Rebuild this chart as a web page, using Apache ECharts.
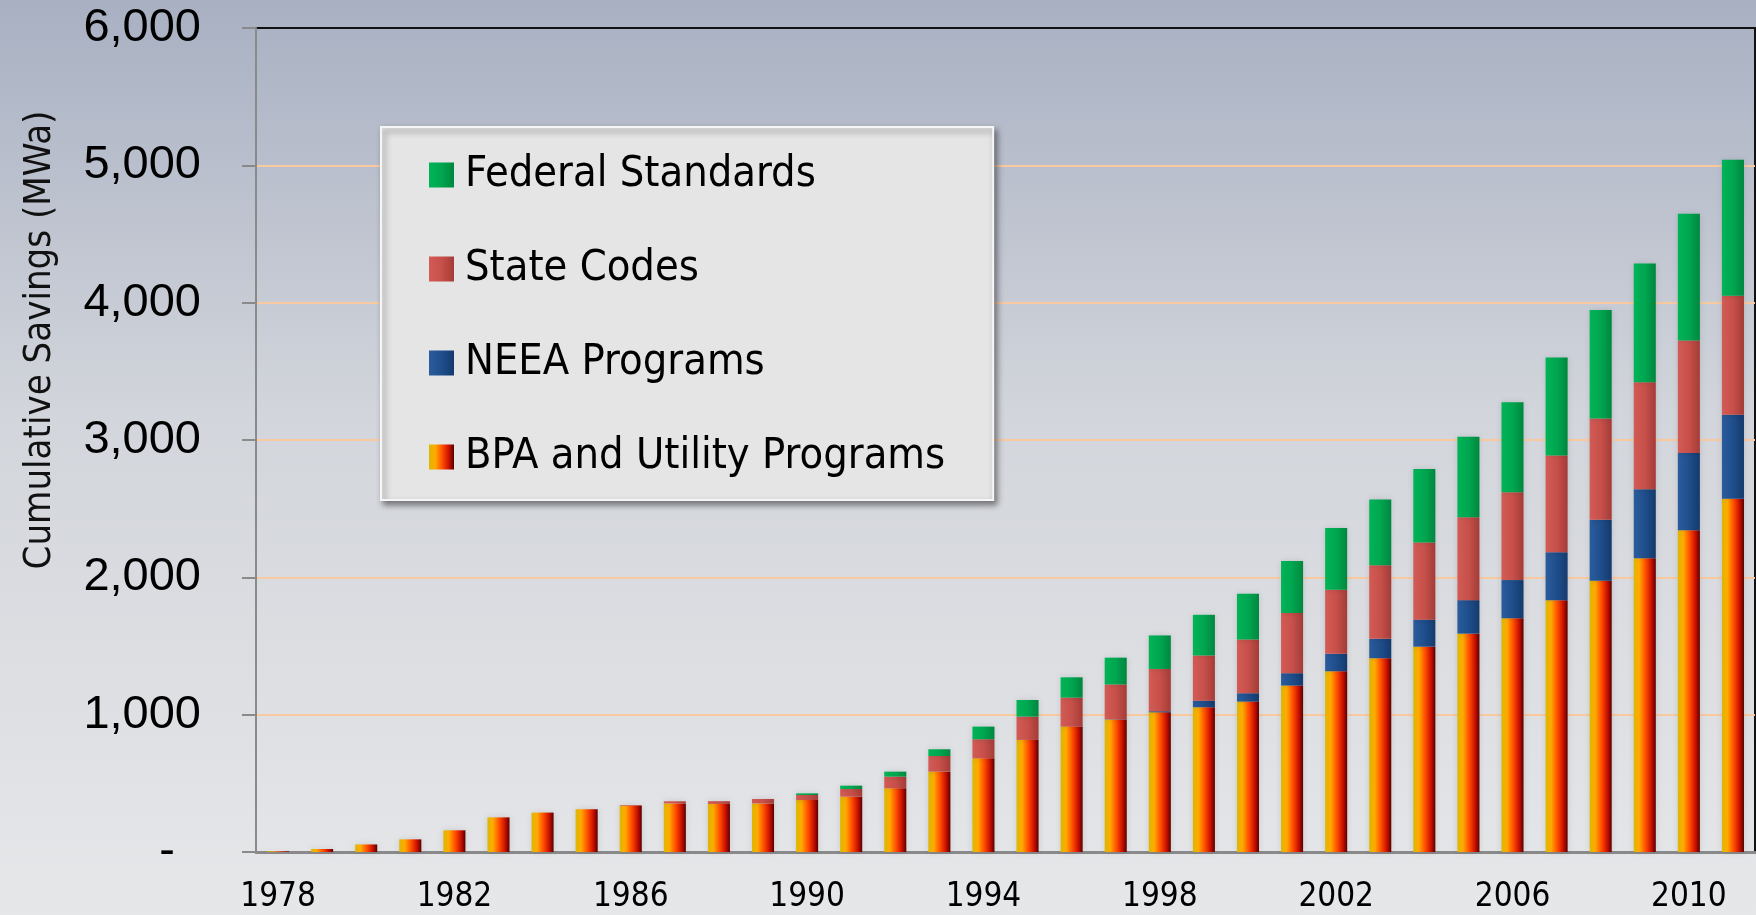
<!DOCTYPE html>
<html>
<head>
<meta charset="utf-8">
<script src="https://cdn.jsdelivr.net/npm/echarts@6/dist/echarts.min.js"></script>
<style>
  body { margin: 0; }
  #savings { width: 1756px; height: 915px; }
</style>
</head>
<body>
<div id="savings"></div>
<script>
var years = ['1978', '1979', '1980', '1981', '1982', '1983', '1984', '1985', '1986', '1987',
  '1988', '1989', '1990', '1991', '1992', '1993', '1994', '1995', '1996', '1997',
  '1998', '1999', '2000', '2001', '2002', '2003', '2004', '2005', '2006', '2007',
  '2008', '2009', '2010', '2011'];

// cumulative MWa
var bpaUtility = [5, 22, 55, 92, 158, 252, 287, 311, 337, 354, 350, 354, 378, 403, 464, 585, 682,
  816, 913, 965, 1017, 1054, 1095, 1212, 1316, 1411, 1495, 1590, 1702, 1834, 1976, 2139, 2342, 2573];
var neeaPrograms = [0, 0, 0, 0, 0, 0, 0, 0, 0, 0, 0, 0, 0, 0, 0, 0, 0, 0, 0, 2, 8, 48, 61, 90, 127,
  141, 197, 244, 278, 349, 444, 502, 563, 610];
var stateCodes = [0, 0, 0, 0, 0, 0, 0, 0, 5, 15, 20, 32, 37, 56, 85, 114, 139, 170, 211, 253, 308,
  329, 391, 438, 467, 536, 562, 603, 640, 705, 736, 779, 820, 868];
var federalStandards = [0, 0, 0, 0, 0, 0, 0, 0, 0, 0, 0, 0, 12, 24, 36, 49, 92, 121, 148, 195, 244,
  296, 334, 379, 450, 479, 535, 587, 655, 712, 790, 865, 922, 990];

var legendNames = ['Federal Standards', 'State Codes', 'NEEA Programs', 'BPA and Utility Programs'];

var savings_chartDom = document.getElementById('savings');
var savings_myChart = echarts.init(savings_chartDom);
var savings_option;

// no narrow Liberation here, the condensed DejaVu is the closest thing
var narrow = "'DejaVu Sans Condensed', 'Liberation Sans Narrow', sans-serif";

// horizontal gradients give the bars a rounded, cylinder-ish look
function barFill(stops) {
  return new echarts.graphic.LinearGradient(0, 0, 1, 0, stops);
}

var bpaFill = barFill([
  { offset: 0, color: '#dcb800' },
  { offset: 0.25, color: '#ffaa00' },
  { offset: 0.55, color: '#ff4a00' },
  { offset: 0.8, color: '#c81000' },
  { offset: 1, color: '#5a0000' }
]);
var neeaFill = barFill([
  { offset: 0, color: '#2a5c9c' },
  { offset: 0.5, color: '#1f4e8c' },
  { offset: 1, color: '#143a6c' }
]);
var stateFill = barFill([
  { offset: 0, color: '#d25b55' },
  { offset: 0.5, color: '#c8504a' },
  { offset: 1, color: '#a33c37' }
]);
var federalFill = barFill([
  { offset: 0, color: '#00b457' },
  { offset: 0.5, color: '#00a650' },
  { offset: 1, color: '#00873f' }
]);

function stackBar(name, values, fill) {
  return {
    name: name,
    type: 'bar',
    stack: 'savings',
    barWidth: '50%',
    data: values,
    itemStyle: {
      color: fill,
      shadowBlur: 6,
      shadowColor: 'rgba(0,0,0,0.12)'
    }
  };
}

savings_option = {
  backgroundColor: new echarts.graphic.LinearGradient(0, 0, 0, 1, [
    { offset: 0, color: '#a8b0c2' },
    { offset: 0.45, color: '#d2d5db' },
    { offset: 1, color: '#e6e7e9' }
  ]),
  animation: false,
  grid: {
    left: 256,
    right: 1,
    top: 28,
    bottom: 63,
    show: true,
    borderColor: '#111',
    borderWidth: 2
  },
  legend: {
    orient: 'vertical',
    left: 381,
    top: 127,
    data: legendNames,
    selectedMode: false,
    icon: 'rect',
    itemWidth: 25,
    itemHeight: 25,
    itemGap: 44,
    padding: [23, 48, 18, 48],
    backgroundColor: '#e5e5e5',
    borderColor: '#f6f6f6',
    borderWidth: 2,
    shadowBlur: 6,
    shadowColor: 'rgba(0,0,0,0.45)',
    shadowOffsetX: 3,
    shadowOffsetY: 4,
    textStyle: {
      fontFamily: narrow,
      fontSize: 43,
      lineHeight: 50,
      color: '#000',
      padding: [0, 0, 0, 6]
    }
  },
  xAxis: {
    type: 'category',
    data: years,
    axisLine: { lineStyle: { color: '#8a8a8a', width: 3 } },
    axisTick: { interval: 0, length: 14, lineStyle: { color: '#8a8a8a', width: 2 } },
    axisLabel: {
      interval: 3,
      margin: 29,
      fontFamily: narrow,
      fontSize: 33,
      color: '#000'
    }
  },
  yAxis: {
    type: 'value',
    min: 0,
    max: 6000,
    interval: 1000,
    name: 'Cumulative Savings (MWa)',
    nameLocation: 'middle',
    nameGap: 197,
    nameTextStyle: {
      fontFamily: narrow,
      fontSize: 38,
      color: '#111',
      padding: [0, 0, 0, 200]
    },
    axisLine: { show: true, lineStyle: { color: '#8a8a8a', width: 2 } },
    axisTick: { show: true, length: 14, lineStyle: { color: '#8a8a8a', width: 2 } },
    axisLabel: {
      margin: 55,
      fontFamily: "'Liberation Sans', Arial, sans-serif",
      fontSize: 47,
      color: '#000',
      formatter: function (v) {
        if (v === 0) return '-  ';
        return v.toLocaleString('en-US');
      }
    },
    splitLine: { showMaxLine: false, lineStyle: { color: '#f9c9a0', width: 2 } }
  },
  series: [
    stackBar('BPA and Utility Programs', bpaUtility, bpaFill),
    stackBar('NEEA Programs', neeaPrograms, neeaFill),
    stackBar('State Codes', stateCodes, stateFill),
    stackBar('Federal Standards', federalStandards, federalFill)
  ]
};

if (savings_option && typeof savings_option === 'object') {
  savings_myChart.setOption(savings_option);
}
</script>
</body>
</html>
